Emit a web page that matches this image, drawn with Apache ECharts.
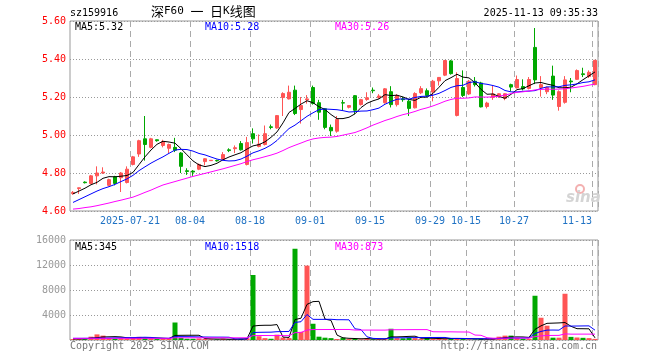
<!DOCTYPE html>
<html><head><meta charset="utf-8">
<script src="https://cdn.jsdelivr.net/npm/echarts@6/dist/echarts.min.js"></script>
<style>html,body{margin:0;padding:0;background:#fff}#c{width:660px;height:360px}</style>
</head><body><div id="c"></div>
<script>
const dates = ['2025-07-07','2025-07-08','2025-07-09','2025-07-10','2025-07-11','2025-07-14','2025-07-15','2025-07-16','2025-07-17','2025-07-18',
'2025-07-21','2025-07-22','2025-07-23','2025-07-24','2025-07-25','2025-07-28','2025-07-29','2025-07-30','2025-07-31','2025-08-01',
'2025-08-04','2025-08-05','2025-08-06','2025-08-07','2025-08-08','2025-08-11','2025-08-12','2025-08-13','2025-08-14','2025-08-15',
'2025-08-18','2025-08-19','2025-08-20','2025-08-21','2025-08-22','2025-08-25','2025-08-26','2025-08-27','2025-08-28','2025-08-29',
'2025-09-01','2025-09-02','2025-09-03','2025-09-04','2025-09-05','2025-09-08','2025-09-09','2025-09-10','2025-09-11','2025-09-12',
'2025-09-15','2025-09-16','2025-09-17','2025-09-18','2025-09-19','2025-09-22','2025-09-23','2025-09-24','2025-09-25','2025-09-26',
'2025-09-29','2025-09-30','2025-10-09','2025-10-10','2025-10-13','2025-10-14','2025-10-15','2025-10-16','2025-10-17','2025-10-20',
'2025-10-21','2025-10-22','2025-10-23','2025-10-24','2025-10-27','2025-10-28','2025-10-29','2025-10-30','2025-10-31','2025-11-03',
'2025-11-04','2025-11-05','2025-11-06','2025-11-07','2025-11-10','2025-11-11','2025-11-12','2025-11-13'];

const opens = [4.692,4.718,4.752,4.745,4.785,4.800,4.735,4.780,4.775,4.750,
4.845,4.900,4.980,4.935,4.975,4.945,4.930,4.935,4.905,4.812,
4.810,4.820,4.860,4.865,4.866,4.872,4.922,4.928,4.955,4.845,
5.007,4.940,4.950,5.043,5.037,5.197,5.190,5.236,5.134,5.185,
5.250,5.170,5.138,5.040,5.020,5.170,5.146,5.207,5.160,5.187,
5.236,5.197,5.170,5.228,5.160,5.190,5.178,5.143,5.222,5.233,
5.226,5.285,5.315,5.390,5.103,5.250,5.216,5.283,5.274,5.150,
5.198,5.202,5.193,5.265,5.248,5.255,5.245,5.461,5.250,5.228,
5.310,5.150,5.172,5.284,5.293,5.322,5.308,5.265];
const closes = [4.698,4.722,4.749,4.785,4.800,4.805,4.765,4.745,4.800,4.820,
4.885,4.970,4.950,4.980,4.970,4.965,4.950,4.920,4.835,4.808,
4.805,4.845,4.875,4.867,4.864,4.897,4.918,4.933,4.922,4.960,
4.980,4.952,5.007,5.040,5.102,5.218,5.225,5.113,5.155,5.190,
5.166,5.120,5.040,5.022,5.082,5.168,5.155,5.130,5.186,5.196,
5.233,5.205,5.243,5.160,5.207,5.186,5.140,5.218,5.244,5.208,
5.283,5.303,5.392,5.323,5.297,5.208,5.283,5.265,5.148,5.168,
5.216,5.217,5.217,5.252,5.292,5.243,5.292,5.290,5.265,5.250,
5.210,5.228,5.290,5.280,5.339,5.318,5.330,5.393];
const lows = [4.685,4.690,4.745,4.740,4.740,4.795,4.730,4.735,4.700,4.745,
4.840,4.885,4.865,4.930,4.965,4.935,4.905,4.910,4.800,4.790,
4.785,4.815,4.840,4.863,4.860,4.868,4.910,4.905,4.918,4.840,
4.955,4.935,4.945,5.030,5.033,5.100,5.187,5.105,5.060,5.165,
5.160,5.080,5.030,4.995,5.012,5.130,5.140,5.110,5.155,5.180,
5.220,5.190,5.165,5.145,5.150,5.175,5.100,5.140,5.215,5.200,
5.177,5.260,5.310,5.318,5.098,5.200,5.210,5.255,5.145,5.140,
5.185,5.195,5.183,5.230,5.245,5.235,5.240,5.268,5.202,5.215,
5.185,5.128,5.165,5.225,5.290,5.305,5.300,5.262];
const highs = [4.705,4.723,4.756,4.790,4.835,4.830,4.770,4.785,4.805,4.835,
4.890,4.975,5.100,4.985,4.976,4.975,4.955,4.985,4.910,4.825,
4.815,4.850,4.878,4.867,4.870,4.910,4.930,4.945,4.968,4.990,
5.035,5.003,5.050,5.055,5.105,5.225,5.260,5.260,5.200,5.210,
5.260,5.185,5.140,5.055,5.100,5.185,5.157,5.210,5.190,5.225,
5.250,5.215,5.247,5.257,5.215,5.200,5.190,5.225,5.257,5.245,
5.290,5.305,5.395,5.395,5.330,5.340,5.290,5.305,5.280,5.175,
5.260,5.220,5.220,5.270,5.313,5.293,5.305,5.563,5.310,5.255,
5.365,5.235,5.310,5.300,5.345,5.354,5.340,5.395];
const volumes = [150,180,120,530,900,700,300,250,300,250,
350,500,300,250,150,200,250,2800,350,200,
200,250,150,100,100,200,100,150,200,300,
10400,600,300,200,850,400,300,14600,1300,11900,
2600,530,370,300,160,370,150,200,100,300,
100,150,150,1800,300,270,370,300,150,320,
200,200,150,320,300,150,100,100,200,200,
250,530,700,700,300,200,200,7080,3560,2290,
370,370,7400,500,400,350,300,180];

// moving-average values before enough in-window history exists
const ma5Head = [4.690,4.705,4.720,4.738];
const ma10Head = [4.645,4.660,4.675,4.690,4.705,4.718,4.728,4.740,4.755];
const ma30Head = [4.610,4.613,4.618,4.622,4.628,4.635,4.642,4.650,4.657,4.665,
4.673,4.685,4.698,4.710,4.724,4.737,4.746,4.755,4.764,4.773,
4.782,4.790,4.798,4.806,4.814,4.822,4.831,4.840,4.849];
const volMa5Head = [170,170,180,300];
const volMa10Head = [260,265,270,280,290,300,320,340,355];
const volMa30Head = [270,270,270,270,270,270,270,270,270,270,270,270,270,270,270,270,270,
355,355,355,355,355,355,355,355,355,355,355,355];

const labelDates = ['2025-07-21','2025-08-04','2025-08-18','2025-09-01','2025-09-15','2025-09-29','2025-10-15','2025-10-27','2025-11-13'];
const priceLegend = ['MA5:5.32','MA10:5.28','MA30:5.26'];
const volLegend = ['MA5:345','MA10:1518','MA30:873'];
const headerCode = 'sz159916';
const headerTime = '2025-11-13 09:35:33';

function movingAvg(vals, n, head) {
  return vals.map((v, i) => {
    if (i < n - 1) return head[i];
    let s = 0; for (let j = i - n + 1; j <= i; j++) s += vals[j];
    return +(s / n).toFixed(4);
  });
}

const UP = '#ff5555', DOWN = '#00a800';
const MONO = '"DejaVu Sans Mono", "Liberation Mono", monospace';
const labelIdx = new Set(labelDates.map(d => dates.indexOf(d)));
const lastIdx = dates.length - 1;

const xData = dates.map((d, i) => i === lastIdx ? {value: d, textStyle: {align: 'right', padding: [0, 3, 0, 0]}} : d);

const candleData = dates.map((d, i) => [opens[i], closes[i], lows[i], highs[i]]);
const volData = volumes.map((v, i) => ({value: v, itemStyle: {color: closes[i] >= opens[i] ? UP : DOWN}}));

const splitX = {show: true, interval: (i) => labelIdx.has(i), lineStyle: {color: '#aaa', type: [6, 4], width: 1}};

const chart = echarts.init(document.getElementById('c'), null, {renderer: 'canvas', width: 660, height: 360});
chart.setOption({
  animation: false,
  backgroundColor: '#fff',
  grid: [
    {left: 70, top: 21, width: 528, height: 190, show: true, borderColor: '#999', borderWidth: 1, containLabel: false, outerBoundsMode: 'none'},
    {left: 70, top: 240, width: 528, height: 100, show: true, borderColor: '#999', borderWidth: 1, containLabel: false, outerBoundsMode: 'none'}
  ],
  xAxis: [
    {type: 'category', gridIndex: 0, data: xData, boundaryGap: true,
      axisLine: {show: false}, axisTick: {show: false},
      axisLabel: {interval: (i) => labelIdx.has(i), hideOverlap: false,
        formatter: (v, i) => (i === dates.indexOf(labelDates[0]) ? v : v.slice(5)),
        color: '#1f72c4', fontFamily: MONO, fontSize: 10, margin: 5, padding: [0, 6, 0, 0]},
      splitLine: splitX},
    {type: 'category', gridIndex: 1, data: dates, boundaryGap: true,
      axisLine: {show: false}, axisTick: {show: false}, axisLabel: {show: false},
      splitLine: splitX}
  ],
  yAxis: [
    {type: 'value', gridIndex: 0, min: 4.6, max: 5.6, interval: 0.2, scale: false,
      axisLine: {show: false}, axisTick: {show: false},
      axisLabel: {color: '#ff0000', fontFamily: MONO, fontSize: 10, margin: 4, formatter: v => v.toFixed(2)},
      splitLine: {show: true, lineStyle: {color: '#999', type: [1, 2], width: 1}}},
    {type: 'value', gridIndex: 1, min: 0, max: 16000, interval: 4000,
      axisLine: {show: false}, axisTick: {show: false},
      axisLabel: {color: '#999', fontFamily: MONO, fontSize: 10, margin: 4, formatter: v => (v === 0 ? '' : String(v))},
      splitLine: {show: true, lineStyle: {color: '#999', type: [1, 2], width: 1}}}
  ],
  series: [
    {type: 'candlestick', xAxisIndex: 0, yAxisIndex: 0, data: candleData, barWidth: 4,
      itemStyle: {color: UP, color0: DOWN, borderColor: UP, borderColor0: DOWN, borderWidth: 1}},
    {type: 'line', xAxisIndex: 0, yAxisIndex: 0, data: movingAvg(closes, 5, ma5Head), symbol: 'none', lineStyle: {color: '#000', width: 1}, z: 3},
    {type: 'line', xAxisIndex: 0, yAxisIndex: 0, data: movingAvg(closes, 10, ma10Head), symbol: 'none', lineStyle: {color: '#0000ff', width: 1}, z: 3},
    {type: 'line', xAxisIndex: 0, yAxisIndex: 0, data: movingAvg(closes, 30, ma30Head), symbol: 'none', lineStyle: {color: '#ff00ff', width: 1}, z: 3},
    {type: 'bar', xAxisIndex: 1, yAxisIndex: 1, data: volData, barWidth: 5},
    {type: 'line', xAxisIndex: 1, yAxisIndex: 1, data: movingAvg(volumes, 5, volMa5Head), symbol: 'none', lineStyle: {color: '#000', width: 1}, z: 3},
    {type: 'line', xAxisIndex: 1, yAxisIndex: 1, data: movingAvg(volumes, 10, volMa10Head), symbol: 'none', lineStyle: {color: '#0000ff', width: 1}, z: 3},
    {type: 'line', xAxisIndex: 1, yAxisIndex: 1, data: movingAvg(volumes, 30, volMa30Head), symbol: 'none', lineStyle: {color: '#ff00ff', width: 1}, z: 3}
  ],
  graphic: [
    {type: 'text', left: 70, top: 8, style: {text: headerCode, font: '10px ' + MONO, fill: '#000'}},
    {type: 'text', left: 151, top: 5, style: {
      text: '{c|深}{b|F60 }{c|一}{b| }{c|日}{b|K}{c|线图}',
      rich: {c: {font: '13px "Noto Sans CJK SC"', fill: '#000'}, b: {font: '11px ' + MONO, fill: '#000'}}}},
    {type: 'text', right: 62, top: 8, style: {text: headerTime, font: '10px ' + MONO, fill: '#000'}},
    {type: 'text', left: 75, top: 22, style: {text: priceLegend[0], font: '10px ' + MONO, fill: '#000'}, z: 10},
    {type: 'text', left: 205, top: 22, style: {text: priceLegend[1], font: '10px ' + MONO, fill: '#0000ff'}, z: 10},
    {type: 'text', left: 335, top: 22, style: {text: priceLegend[2], font: '10px ' + MONO, fill: '#ff00ff'}, z: 10},
    {type: 'text', left: 75, top: 242, style: {text: volLegend[0], font: '10px ' + MONO, fill: '#000'}, z: 10},
    {type: 'text', left: 205, top: 242, style: {text: volLegend[1], font: '10px ' + MONO, fill: '#0000ff'}, z: 10},
    {type: 'text', left: 335, top: 242, style: {text: volLegend[2], font: '10px ' + MONO, fill: '#ff00ff'}, z: 10},
    {type: 'text', left: 70, top: 341, style: {text: 'Copyright 2025 SINA.COM', font: '10px ' + MONO, fill: '#777'}},
    {type: 'text', right: 63, top: 341, style: {text: 'http://finance.sina.com.cn', font: '10px ' + MONO, fill: '#777'}},
    {type: 'circle', shape: {cx: 580, cy: 189, r: 4}, style: {fill: 'none', stroke: '#f3b0b0', lineWidth: 2}, z: 1},
    {type: 'text', left: 566, top: 191, style: {text: 'sina', font: 'italic bold 15px "DejaVu Sans"', fill: '#d4d4d4'}, z: 1}
  ]
});
</script></body></html>
